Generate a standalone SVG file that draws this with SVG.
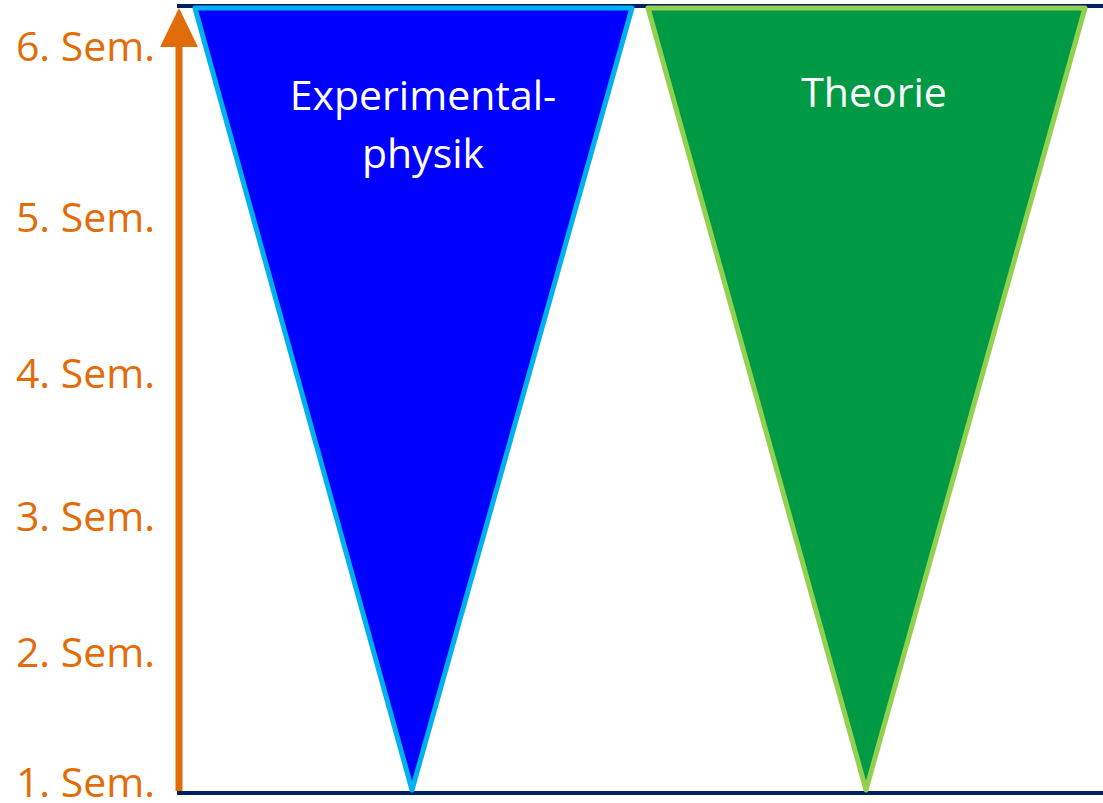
<svg xmlns="http://www.w3.org/2000/svg" width="1103" height="803" viewBox="0 0 1103 803">
  <style>
    .sem { font-family: "Open Sans", "Noto Sans", sans-serif; font-size: 41px; fill: #E36C0A; text-anchor: end; }
    .lbl { font-family: "Open Sans", "Noto Sans", sans-serif; font-size: 41px; fill: #FFFFFF; text-anchor: middle; }
    .axis { stroke: #002060; stroke-width: 4; fill: none; }
    .tri { stroke-width: 5; stroke-linejoin: round; }
  </style>
  <rect width="1103" height="803" fill="#FFFFFF"/>
  <g id="frame">
    <line class="axis" x1="177" y1="6" x2="1103" y2="6"/>
    <line class="axis" x1="177" y1="793" x2="1103" y2="793"/>
  </g>
  <g id="experimental">
    <polygon class="tri" points="195,8 632,8 412,790" fill="#0000FF" stroke="#00B0F0"/>
    <text class="lbl" x="423" y="110">Experimental-</text>
    <text class="lbl" x="423" y="168">physik</text>
  </g>
  <g id="theorie">
    <polygon class="tri" points="648,8 1085,8 866,790" fill="#009A44" stroke="#92D050"/>
    <text class="lbl" x="874" y="107">Theorie</text>
  </g>
  <g id="connectors">
    <line x1="179" y1="791" x2="179" y2="47" stroke="#E36C0A" stroke-width="7"/>
    <path d="M179 8 L198 47 L160 47 Z" fill="#E36C0A"/>
  </g>
  <g id="semester-labels">
    <text class="sem" x="155" y="61">6. Sem.</text>
    <text class="sem" x="155" y="232">5. Sem.</text>
    <text class="sem" x="155" y="388">4. Sem.</text>
    <text class="sem" x="155" y="531">3. Sem.</text>
    <text class="sem" x="155" y="667">2. Sem.</text>
    <text class="sem" x="155" y="797">1. Sem.</text>
  </g>
</svg>
